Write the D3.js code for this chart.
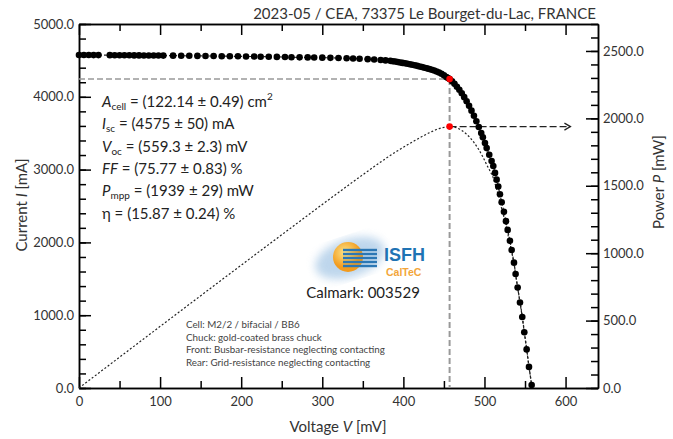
<!DOCTYPE html>
<html>
<head>
<meta charset="utf-8">
<script src="https://cdn.jsdelivr.net/npm/d3@7"></script>
<style>
body { margin: 0; background: #fff; }
svg { display: block; font-family: Lato, "Open Sans", sans-serif; }
</style>
</head>
<body>
<svg id="chart" width="673" height="439"></svg>
<script>
// measured I-V points (mV, mA)
const voltage = [0, 6, 12, 18, 24, 38, 44, 50, 56, 62, 68, 74, 80, 86, 92, 98, 104, 116, 126, 136,
	146, 156, 166, 176, 186, 196, 206, 216, 224, 234, 244, 254, 262, 272, 282, 290, 300, 310, 320, 330,
	338, 346, 356, 364, 372, 378, 384, 387, 390, 393, 396, 399, 402, 405, 408, 411, 414, 417, 420, 423,
	426, 429, 432, 435, 438, 441, 444, 447, 450, 453, 455, 457, 460, 463, 466, 469, 472, 475, 478, 481,
	484, 487, 490, 493, 496, 498, 500.6, 502.7, 505.9, 508.8, 510.9, 513, 515, 517, 519.1, 521.2, 524,
	526.5, 528.6, 531.4, 533.5, 536.4, 538.4, 540.9, 543.8, 546.6, 549.1, 552, 554.9, 558.2];
const current = [4575, 4574, 4574, 4573, 4573, 4572, 4571, 4571, 4570, 4570, 4569, 4569, 4568, 4568, 4567, 4567, 4566, 4565, 4564, 4563,
	4562, 4561, 4560, 4558, 4557, 4556, 4554, 4553, 4551, 4550, 4548, 4546, 4544, 4542, 4541, 4540, 4538, 4535, 4532, 4529,
	4526, 4522, 4517, 4512, 4506, 4500, 4494, 4489, 4484, 4478, 4472, 4466, 4460, 4454, 4447, 4440, 4433, 4425, 4417, 4409,
	4400, 4391, 4382, 4372, 4361, 4348, 4333, 4316, 4296, 4273, 4258, 4243, 4213, 4178, 4139, 4096, 4048, 3995, 3938, 3876,
	3810, 3740, 3665, 3586, 3502, 3443, 3364, 3295, 3205, 3118, 3050, 2955, 2862, 2768, 2662, 2552, 2420,
	2292, 2172, 2022, 1895, 1722, 1565, 1380, 1175, 975, 765, 530, 290, 40];

// maximum power point
const mppVoltage = 457;
const mppCurrent = 4243;
const mppPower = 1939;

const voltageTicks = [0, 100, 200, 300, 400, 500, 600];
const currentTicks = [0, 1000, 2000, 3000, 4000, 5000];
const powerTicks = [0, 500, 1000, 1500, 2000, 2500];

const statLines = [
	[['A', 'i'], ['cell', 'sub'], [' = (122.14 ± 0.49) cm'], ['2', 'sup']],
	[['I', 'i'], ['sc', 'sub'], [' = (4575 ± 50) mA']],
	[['V', 'i'], ['oc', 'sub'], [' = (559.3 ± 2.3) mV']],
	[['FF', 'i'], [' = (75.77 ± 0.83) %']],
	[['P', 'i'], ['mpp', 'sub'], [' = (1939 ± 29) mW']],
	[['η = (15.87 ± 0.24) %']]
];
const noteLines = [
	'Cell: M2/2 / bifacial / BB6',
	'Chuck: gold-coated brass chuck',
	'Front: Busbar-resistance neglecting contacting',
	'Rear: Grid-resistance neglecting contacting'
];

const mLeft = 79, mRight = 598, mTop = 24, mBottom = 388;
const svg = d3.select('#chart');

const x = d3.scaleLinear().domain([0, 640]).range([mLeft, mRight]);
const y = d3.scaleLinear().domain([0, 5000]).range([mBottom, mTop]);
const yP = d3.scaleLinear().domain([0, 2700]).range([mBottom, mTop]);

const points = voltage.map((v, i) => ({ v, i: current[i], p: v * current[i] / 1000 }));

// axes
const styleAxis = g => {
	g.selectAll('path, line').attr('stroke', '#000').attr('stroke-width', 1.5);
	g.selectAll('text').attr('fill', '#333').style('font-size', '13px').style('font-family', 'Lato, sans-serif');
};

svg.append('g').attr('transform', `translate(${mLeft},0)`)
	.call(d3.axisLeft(y).tickValues(d3.range(0, 5001, 200)).tickSize(-7).tickSizeOuter(0).tickFormat(''))
	.call(styleAxis);
svg.append('g').attr('transform', `translate(${mLeft},0)`)
	.call(d3.axisLeft(y).tickValues(currentTicks).tickSize(-12).tickSizeOuter(0).tickPadding(5).tickFormat(d3.format('.1f')))
	.call(styleAxis);

svg.append('g').attr('transform', `translate(${mRight},0)`)
	.call(d3.axisRight(yP).tickValues(d3.range(0, 2701, 100)).tickSize(-7).tickSizeOuter(0).tickFormat(''))
	.call(styleAxis);
svg.append('g').attr('transform', `translate(${mRight},0)`)
	.call(d3.axisRight(yP).tickValues(powerTicks).tickSize(-12).tickSizeOuter(0).tickPadding(5).tickFormat(d3.format('.1f')))
	.call(styleAxis);

svg.append('g').attr('transform', `translate(0,${mBottom})`)
	.call(d3.axisBottom(x).tickValues(d3.range(50, 640, 100)).tickSize(-7).tickSizeOuter(0).tickFormat(''))
	.call(styleAxis);
svg.append('g').attr('transform', `translate(0,${mBottom})`)
	.call(d3.axisBottom(x).tickValues(voltageTicks).tickSize(-11).tickSizeOuter(0).tickPadding(9).tickFormat(d3.format('d')))
	.call(styleAxis);

svg.append('g').attr('transform', `translate(0,${mTop})`)
	.call(d3.axisTop(x).tickValues(d3.range(50, 640, 100)).tickSize(-7).tickSizeOuter(0).tickFormat(''))
	.call(styleAxis);
svg.append('g').attr('transform', `translate(0,${mTop})`)
	.call(d3.axisTop(x).tickValues(voltageTicks).tickSize(-11).tickSizeOuter(0).tickFormat(''))
	.call(styleAxis);

// axis titles
const title = (tx, ty, rot, parts) => {
	const t = svg.append('text')
		.attr('transform', `translate(${tx},${ty}) rotate(${rot})`)
		.attr('text-anchor', 'middle')
		.attr('fill', '#333')
		.style('font-size', '15px');
	parts.forEach(([s, it]) => t.append('tspan').text(s).style('font-style', it ? 'italic' : 'normal'));
};
title(338, 432, 0, [['Voltage '], ['V', 1], [' [mV]']]);
title(27, 205, -90, [['Current '], ['I', 1], [' [mA]']]);
title(664, 182, -90, [['Power '], ['P', 1], [' [mW]']]);

svg.append('text')
	.attr('x', 596).attr('y', 19)
	.attr('text-anchor', 'end')
	.attr('fill', '#333')
	.style('font-size', '15px')
	.text('2023-05 / CEA, 73375 Le Bourget-du-Lac, FRANCE');

// mpp guide lines
svg.append('line')
	.attr('x1', x(0)).attr('x2', x(mppVoltage))
	.attr('y1', y(mppCurrent)).attr('y2', y(mppCurrent))
	.attr('stroke', '#999').attr('stroke-width', 1.5).attr('stroke-dasharray', '6,3');
svg.append('line')
	.attr('x1', x(mppVoltage)).attr('x2', x(mppVoltage))
	.attr('y1', y(mppCurrent)).attr('y2', y(0))
	.attr('stroke', '#999').attr('stroke-width', 2).attr('stroke-dasharray', '6,3');

// power curve
svg.append('path')
	.datum(points)
	.attr('fill', 'none')
	.attr('stroke', '#222')
	.attr('stroke-width', 1.2)
	.attr('stroke-dasharray', '2,2')
	.attr('d', d3.line().x(d => x(d.v)).y(d => yP(d.p)).curve(d3.curveMonotoneX));

// arrow to power axis
const arrowEnd = 606;
svg.append('line')
	.attr('x1', x(mppVoltage)).attr('x2', x(arrowEnd))
	.attr('y1', yP(mppPower)).attr('y2', yP(mppPower))
	.attr('stroke', '#222').attr('stroke-width', 1.2).attr('stroke-dasharray', '7,3');
svg.append('path')
	.attr('d', `M${x(arrowEnd) - 6},${yP(mppPower) - 3.5}L${x(arrowEnd)},${yP(mppPower)}L${x(arrowEnd) - 6},${yP(mppPower) + 3.5}`)
	.attr('fill', 'none').attr('stroke', '#222').attr('stroke-width', 1.3);

// I-V fit line and points
svg.append('path')
	.datum(points)
	.attr('fill', 'none')
	.attr('stroke', '#222')
	.attr('stroke-width', 1.2)
	.attr('stroke-dasharray', '3,2')
	.attr('d', d3.line().x(d => x(d.v)).y(d => y(d.i)));

svg.append('g')
	.selectAll('circle')
	.data(points)
	.join('circle')
	.attr('cx', d => x(d.v))
	.attr('cy', d => y(d.i))
	.attr('r', 3.3)
	.attr('fill', '#000');

svg.append('circle').attr('cx', x(mppVoltage)).attr('cy', y(mppCurrent)).attr('r', 3.3).attr('fill', '#f00');
svg.append('circle').attr('cx', x(mppVoltage)).attr('cy', yP(mppPower)).attr('r', 3.3).attr('fill', '#f00');

// parameter block
statLines.forEach((line, k) => {
	const t = svg.append('text')
		.attr('x', 102).attr('y', 107 + k * 22.3)
		.attr('fill', '#222')
		.style('font-size', '15px');
	let shift = 0;
	line.forEach(([s, kind]) => {
		const ts = t.append('tspan').text(s);
		let target = 0;
		if (kind === 'i') ts.style('font-style', 'italic');
		if (kind === 'sub') { target = 3; ts.style('font-size', '10px'); }
		if (kind === 'sup') { target = -7; ts.style('font-size', '10px'); }
		if (target !== shift) ts.attr('dy', target - shift);
		shift = target;
	});
});

// logo
const defs = svg.append('defs');
const sunGrad = defs.append('radialGradient').attr('id', 'sun').attr('cx', '40%').attr('cy', '35%');
sunGrad.append('stop').attr('offset', '0%').attr('stop-color', '#fde58a');
sunGrad.append('stop').attr('offset', '100%').attr('stop-color', '#f29b1e');
defs.append('filter').attr('id', 'blur').append('feGaussianBlur').attr('stdDeviation', 4);

svg.append('ellipse')
	.attr('cx', 350).attr('cy', 258).attr('rx', 36).attr('ry', 19)
	.attr('transform', 'rotate(-18 350 258)')
	.attr('fill', '#a9c9e6').attr('opacity', 0.75).attr('filter', 'url(#blur)');
svg.append('circle').attr('cx', 348).attr('cy', 257).attr('r', 15).attr('fill', 'url(#sun)');
[250, 254, 258, 262, 266].forEach(sy => {
	svg.append('rect')
		.attr('x', 343).attr('y', sy - 1.2).attr('width', 34).attr('height', 2.4)
		.attr('fill', '#2b77b5');
});
svg.append('text').attr('x', 384).attr('y', 261)
	.attr('fill', '#1f73b4').style('font-size', '18px').style('font-weight', 'bold')
	.style('font-family', '"Liberation Sans", Arial, sans-serif').text('ISFH');
svg.append('text').attr('x', 386).attr('y', 276)
	.attr('fill', '#f3a63a').style('font-size', '10.5px').style('font-weight', 'bold')
	.style('font-family', '"Liberation Sans", Arial, sans-serif').text('CalTeC');
svg.append('text').attr('x', 363).attr('y', 298)
	.attr('text-anchor', 'middle').attr('fill', '#222').style('font-size', '15px').text('Calmark: 003529');

// notes
noteLines.forEach((s, k) => {
	svg.append('text')
		.attr('x', 186).attr('y', 328 + k * 12.5)
		.attr('fill', '#444')
		.style('font-size', '9.8px')
		.text(s);
});
</script>
</body>
</html>
